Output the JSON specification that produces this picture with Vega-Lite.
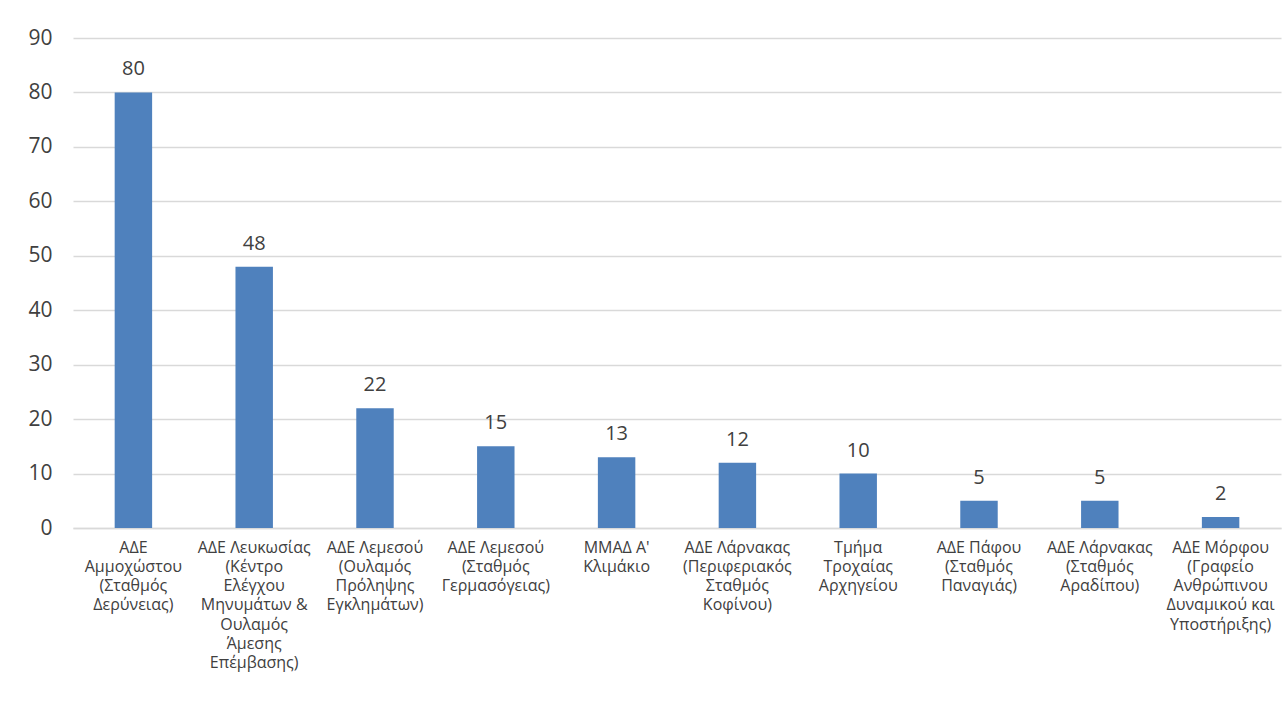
{
  "$schema": "https://vega.github.io/schema/vega-lite/v6.json",
  "width": 1208,
  "height": 490,
  "autosize": "none",
  "padding": {"left": 73, "top": 38, "right": 3, "bottom": 181},
  "background": "white",
  "config": {
    "font": "Open Sans",
    "view": {"stroke": null}
  },
  "data": {
    "values": [
      {"unit": "ΑΔΕ|Αμμοχώστου|(Σταθμός|Δερύνειας)", "value": 80},
      {"unit": "ΑΔΕ Λευκωσίας|(Κέντρο|Ελέγχου|Μηνυμάτων &|Ουλαμός|Άμεσης|Επέμβασης)", "value": 48},
      {"unit": "ΑΔΕ Λεμεσού|(Ουλαμός|Πρόληψης|Εγκλημάτων)", "value": 22},
      {"unit": "ΑΔΕ Λεμεσού|(Σταθμός|Γερμασόγειας)", "value": 15},
      {"unit": "ΜΜΑΔ Α'|Κλιμάκιο", "value": 13},
      {"unit": "ΑΔΕ Λάρνακας|(Περιφεριακός|Σταθμός|Κοφίνου)", "value": 12},
      {"unit": "Τμήμα|Τροχαίας|Αρχηγείου", "value": 10},
      {"unit": "ΑΔΕ Πάφου|(Σταθμός|Παναγιάς)", "value": 5},
      {"unit": "ΑΔΕ Λάρνακας|(Σταθμός|Αραδίπου)", "value": 5},
      {"unit": "ΑΔΕ Μόρφου|(Γραφείο|Ανθρώπινου|Δυναμικού και|Υποστήριξης)", "value": 2}
    ]
  },
  "encoding": {
    "x": {
      "field": "unit",
      "type": "nominal",
      "sort": null,
      "title": null,
      "scale": {"paddingInner": 0, "paddingOuter": 0},
      "axis": {
        "labelAngle": 0,
        "labelExpr": "split(datum.value, '|')",
        "labelFontSize": 16,
        "labelLineHeight": 19.3,
        "labelColor": "#404040",
        "labelLimit": 300,
        "labelPadding": 11,
        "labelBaseline": "top",
        "ticks": false,
        "domainColor": "#d9d9d9",
        "domainWidth": 1.5,
        "grid": false
      }
    },
    "y": {
      "field": "value",
      "type": "quantitative",
      "title": null,
      "scale": {"domain": [0, 90]},
      "axis": {
        "values": [0, 10, 20, 30, 40, 50, 60, 70, 80, 90],
        "labelFontSize": 21,
        "labelColor": "#404040",
        "labelPadding": 21,
        "ticks": false,
        "domain": false,
        "gridColor": "#d9d9d9",
        "gridWidth": 1.5
      }
    }
  },
  "layer": [
    {
      "mark": {"type": "bar", "color": "#4f81bd", "width": {"band": 0.31}}
    },
    {
      "mark": {"type": "text", "dy": -13, "baseline": "bottom", "fontSize": 20, "color": "#404040"},
      "encoding": {"text": {"field": "value", "type": "quantitative"}}
    }
  ]
}
